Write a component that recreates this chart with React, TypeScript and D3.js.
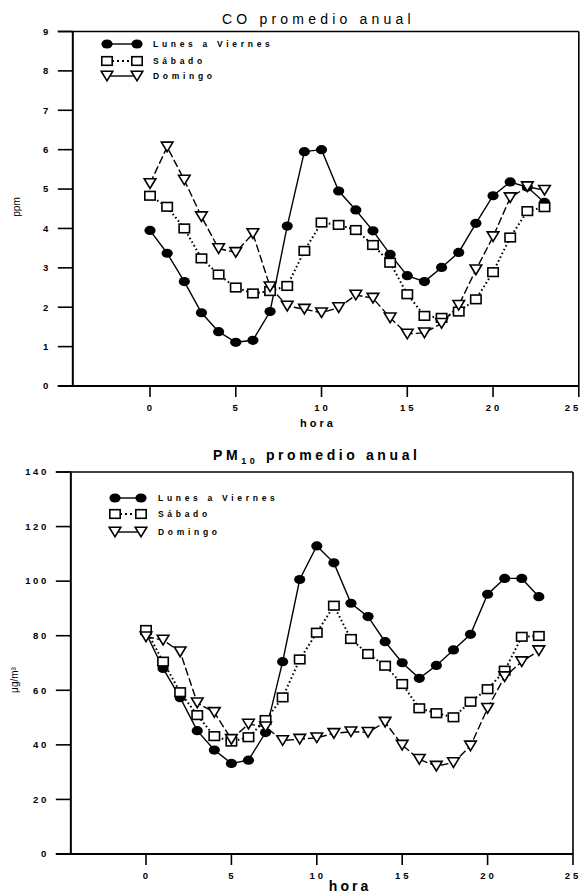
import React from 'react';
import * as d3 from 'd3';

const HOURS = [0, 1, 2, 3, 4, 5, 6, 7, 8, 9, 10, 11, 12, 13, 14, 15, 16, 17, 18, 19, 20, 21, 22, 23];

const CO_WEEKDAY = [3.95, 3.37, 2.65, 1.86, 1.38, 1.11, 1.16, 1.89, 4.06, 5.95, 6.0, 4.95, 4.47, 3.94, 3.34, 2.8, 2.65, 3.01, 3.39, 4.13, 4.83, 5.18, 5.05, 4.66];
const CO_SATURDAY = [4.83, 4.55, 4.0, 3.24, 2.83, 2.5, 2.35, 2.41, 2.54, 3.43, 4.15, 4.09, 3.96, 3.58, 3.13, 2.33, 1.78, 1.73, 1.89, 2.2, 2.89, 3.77, 4.44, 4.54];
const CO_SUNDAY = [5.14, 6.07, 5.23, 4.3, 3.49, 3.39, 3.87, 2.52, 2.03, 1.95, 1.86, 1.99, 2.31, 2.23, 1.73, 1.32, 1.35, 1.59, 2.05, 2.95, 3.79, 4.78, 5.06, 4.97];

const PM_WEEKDAY = [81, 68.0, 57.3, 45.2, 38.1, 33.2, 34.4, 44.5, 70.5, 100.6, 112.9, 106.7, 91.9, 87.0, 77.8, 70.1, 64.4, 69.1, 74.8, 80.5, 95.2, 101.0, 101.0, 94.3];
const PM_SATURDAY = [82.1, 70.5, 59.3, 50.9, 43.2, 41.2, 42.8, 49.1, 57.4, 71.3, 81.1, 91.0, 78.8, 73.3, 69.0, 62.3, 53.4, 51.6, 50.1, 55.8, 60.4, 67.2, 79.6, 79.9];
const PM_SUNDAY = [79.6, 78.4, 74.1, 55.4, 51.9, 42.0, 47.6, 46.6, 41.6, 42.1, 42.6, 44.2, 44.8, 44.6, 48.3, 39.9, 34.7, 32.2, 33.5, 39.6, 53.4, 65.0, 70.5, 74.5];

const CO_Y_TICKS = [0, 1, 2, 3, 4, 5, 6, 7, 8, 9];
const PM_Y_TICKS = [0, 20, 40, 60, 80, 100, 120, 140];
const X_TICKS = [0, 5, 10, 15, 20, 25];
const SERIES_LABELS = ['Lunes a Viernes', 'Sábado', 'Domingo'];
const SERIES_MARKERS = ['circle', 'square', 'triangle'];
const SERIES_DASH = ['none', '1.6,2.6', '8,3'];

const FONT = "'Liberation Sans', Arial, sans-serif";

function Marker({ kind, x, y, s = 1 }: { kind: string; x: number; y: number; s?: number }) {
  if (kind === 'circle') {
    return <ellipse cx={x} cy={y} rx={5.6 * s} ry={4.6 * s} fill="#000" />;
  }
  if (kind === 'square') {
    return <rect x={x - 5.2 * s} y={y - 4.3 * s} width={10.4 * s} height={8.6 * s} fill="#fff" stroke="#000" strokeWidth={1.6} />;
  }
  const w = 5.8 * s;
  const h = 4.8 * s;
  return <path d={`M${x - w},${y - h}L${x + w},${y - h}L${x},${y + h}Z`} fill="#fff" stroke="#000" strokeWidth={1.6} />;
}

type PanelProps = {
  x0: number; x25: number; xMin: number;
  yMax: number; yTop: number; yBottom: number;
  yTicks: number[];
  series: number[][];
  legendX: [number, number, number];
  legendY: number[];
};

function Panel(p: PanelProps) {
  const x = d3.scaleLinear().domain([0, 25]).range([p.x0, p.x25]);
  const y = d3.scaleLinear().domain([0, p.yMax]).range([p.yBottom, p.yTop]);
  const xl = x(p.xMin);
  const line = d3.line<number>().x((_, i) => x(HOURS[i])).y((d) => y(d));
  return (
    <g fontFamily={FONT}>
      <line x1={xl} x2={xl} y1={y(0)} y2={y(p.yMax)} stroke="#000" strokeWidth={2} />
      <line x1={xl - 15} x2={x(25)} y1={y(0)} y2={y(0)} stroke="#000" strokeWidth={2} />
      <line x1={xl - 15} x2={x(25)} y1={y(p.yMax)} y2={y(p.yMax)} stroke="#000" strokeWidth={1.6} />
      <line x1={x(25)} x2={x(25)} y1={y(p.yMax)} y2={y(0)} stroke="#000" strokeWidth={1.6} />
      {p.yTicks.map((t) => (
        <g key={t}>
          <line x1={xl - 15} x2={xl} y1={y(t)} y2={y(t)} stroke="#000" strokeWidth={1.6} />
          <text x={xl - 22} y={y(t)} dy="0.35em" textAnchor="end" fontSize={9.5} fontWeight="bold" letterSpacing={2.6}>{t}</text>
        </g>
      ))}
      {X_TICKS.map((t) => {
        const tx = Math.min(x(t) + 1, 573);
        return (
          <g key={t}>
            <line x1={x(t)} x2={x(t)} y1={y(0)} y2={y(0) + 11} stroke="#000" strokeWidth={1.6} />
            <text x={tx} y={y(0) + 22} dy="0.35em" textAnchor="middle" fontSize={9.5} fontWeight="bold" letterSpacing={3}>{t}</text>
          </g>
        );
      })}
      {p.series.map((s, si) => (
        <path key={si} d={line(s) || ''} fill="none" stroke="#000" strokeWidth={si === 1 ? 2 : 1.4}
          strokeDasharray={SERIES_DASH[si]} />
      ))}
      {p.series.map((s, si) => (
        <g key={'m' + si}>
          {s.map((v, i) => <Marker key={i} kind={SERIES_MARKERS[si]} x={x(HOURS[i])} y={y(v)} />)}
        </g>
      ))}
      {SERIES_LABELS.map((lab, si) => (
        <g key={lab}>
          <line x1={p.legendX[0]} x2={p.legendX[1]} y1={p.legendY[si]} y2={p.legendY[si]} stroke="#000" strokeWidth={si === 1 ? 2 : 1.4}
            strokeDasharray={si === 1 ? '2,3' : 'none'} />
          <Marker kind={SERIES_MARKERS[si]} x={p.legendX[0]} y={p.legendY[si]} />
          <Marker kind={SERIES_MARKERS[si]} x={p.legendX[1]} y={p.legendY[si]} />
          <text x={p.legendX[2]} y={p.legendY[si]} dy="0.35em" fontSize={8.5} fontWeight="bold" letterSpacing={3.7}>{lab}</text>
        </g>
      ))}
    </g>
  );
}

export default function App() {
  return (
    <svg width={582} height={894} style={{ position: 'absolute', left: 0, top: 0, background: '#fff' }}>
      <rect width={582} height={894} fill="#fff" />
      <text x={222} y={24} fontFamily={FONT} fontSize={14} letterSpacing={4.2}>CO promedio anual</text>
      <text transform="translate(20,207) rotate(-90)" textAnchor="middle" fontFamily={FONT} fontSize={10}>ppm</text>
      <Panel x0={150} x25={578.8} xMin={-4.5} yMax={9} yTop={31.5} yBottom={386} yTicks={CO_Y_TICKS}
        series={[CO_WEEKDAY, CO_SATURDAY, CO_SUNDAY]} legendX={[107, 137, 153]} legendY={[44, 61, 76]} />
      <text x={318} y={423} dy="0.35em" textAnchor="middle" fontFamily={FONT} fontSize={11} fontWeight="bold" letterSpacing={3}>hora</text>

      <text x={213} y={460} fontFamily={FONT} fontSize={14} fontWeight="bold" letterSpacing={3.6}>
        PM<tspan fontSize={9} dy={4}>10</tspan><tspan dy={-4}> promedio anual</tspan>
      </text>
      <text transform="translate(18,680) rotate(-90)" textAnchor="middle" fontFamily={FONT} fontSize={10}>μg/m³</text>
      <Panel x0={146} x25={573} xMin={-4.4} yMax={140} yTop={472} yBottom={854} yTicks={PM_Y_TICKS}
        series={[PM_WEEKDAY, PM_SATURDAY, PM_SUNDAY]} legendX={[115, 141, 158]} legendY={[498, 514, 532]} />
      <text x={350} y={886} dy="0.35em" textAnchor="middle" fontFamily={FONT} fontSize={14} fontWeight="bold" letterSpacing={3}>hora</text>
    </svg>
  );
}
